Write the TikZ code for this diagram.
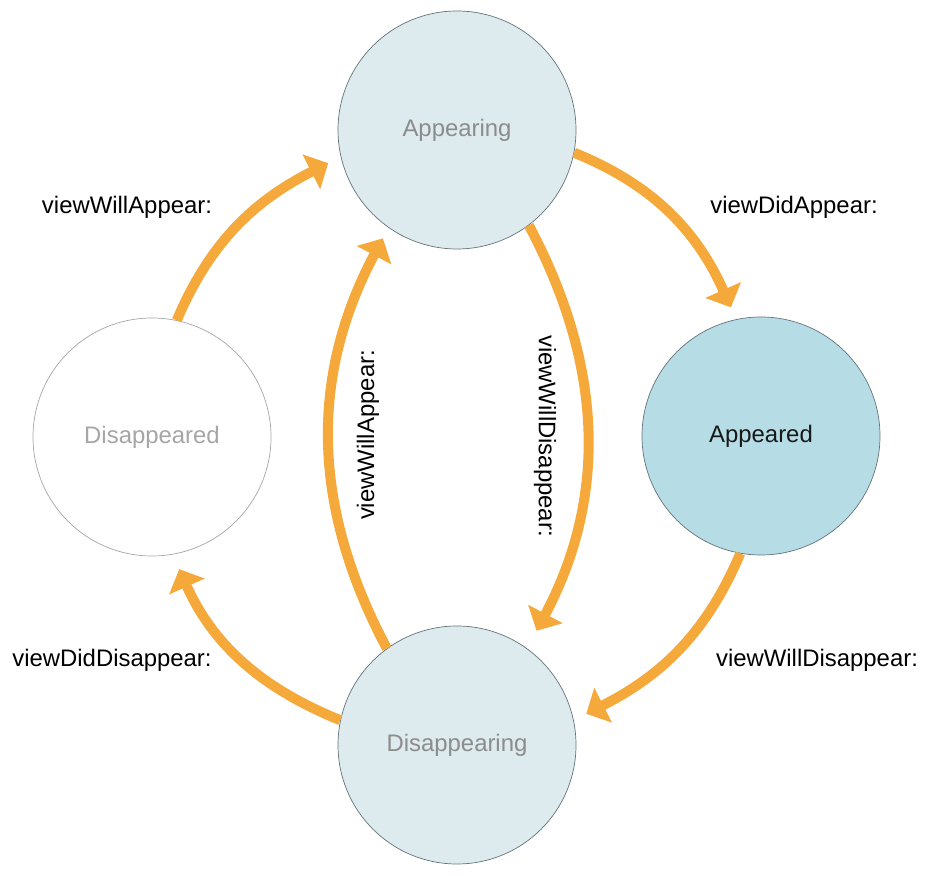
\documentclass[tikz,border=0pt]{standalone}
\usepackage{fontspec}
\setmainfont{Liberation Sans}
\usetikzlibrary{arrows.meta}
\definecolor{flow}{HTML}{F4A93A}
\definecolor{pale}{HTML}{DDEAEE}
\definecolor{shown}{HTML}{B6DCE6}
\definecolor{rim}{HTML}{66737A}

\begin{document}
\begin{tikzpicture}[
    state/.style={circle, draw=rim, fill=pale, minimum size=4.76cm, inner sep=0pt, font=\fontsize{13.6}{16}\selectfont, text=black!45},
    trans/.style={line width=0.2cm, draw=flow, -{Triangle[length=0.38cm, width=0.76cm]}},
    call/.style={font=\fontsize{13.6}{16}\selectfont}
]
    \useasboundingbox (0,0) rectangle (18.5,17.52);

    % States
    \node[state] (appearing) at (9.14,14.92) {Appearing};
    \node[state, fill=shown, text=black!90] (appeared) at (15.22,8.8) {Appeared};
    \node[state, fill=white, draw=black!35, text=black!35] (disappeared) at (3.04,8.78) {Disappeared};
    \node[state] (disappearing) at (9.14,2.62) {Disappearing};

    % Outer transitions
    \draw[trans, shorten >=0.28cm] (disappeared.78) to[out=67, in=207] (appearing.193);
    \draw[trans, shorten >=0.26cm] (appearing.-11) to[out=-22, in=114] (appeared.102);
    \draw[trans, shorten >=0.28cm] (appeared.260) to[out=247, in=27] (disappearing.12);
    \draw[trans, shorten >=0.32cm] (disappearing.168) to[out=158, in=-66] (disappeared.-80);

    % Inner transitions
    \draw[trans, shorten >=0.24cm] (disappearing.126) to[out=118, in=242] (appearing.235);
    \draw[trans, shorten >=0.4cm] (appearing.-53) to[out=-62, in=62] (disappearing.54);

    % Labels
    \node[call] (l1) at (2.54,13.38) {viewWillAppear:};
    \node[call] (l2) at (15.88,13.38) {viewDidAppear:};
    \node[call] (l3) at (2.24,4.32) {viewDidDisappear:};
    \node[call] (l4) at (16.34,4.32) {viewWillDisappear:};
    \node[call, rotate=90] (l5) at (7.36,8.82) {viewWillAppear:};
    \node[call, rotate=-90] (l6) at (10.90,8.80) {viewWillDisappear:};
\end{tikzpicture}
\end{document}
